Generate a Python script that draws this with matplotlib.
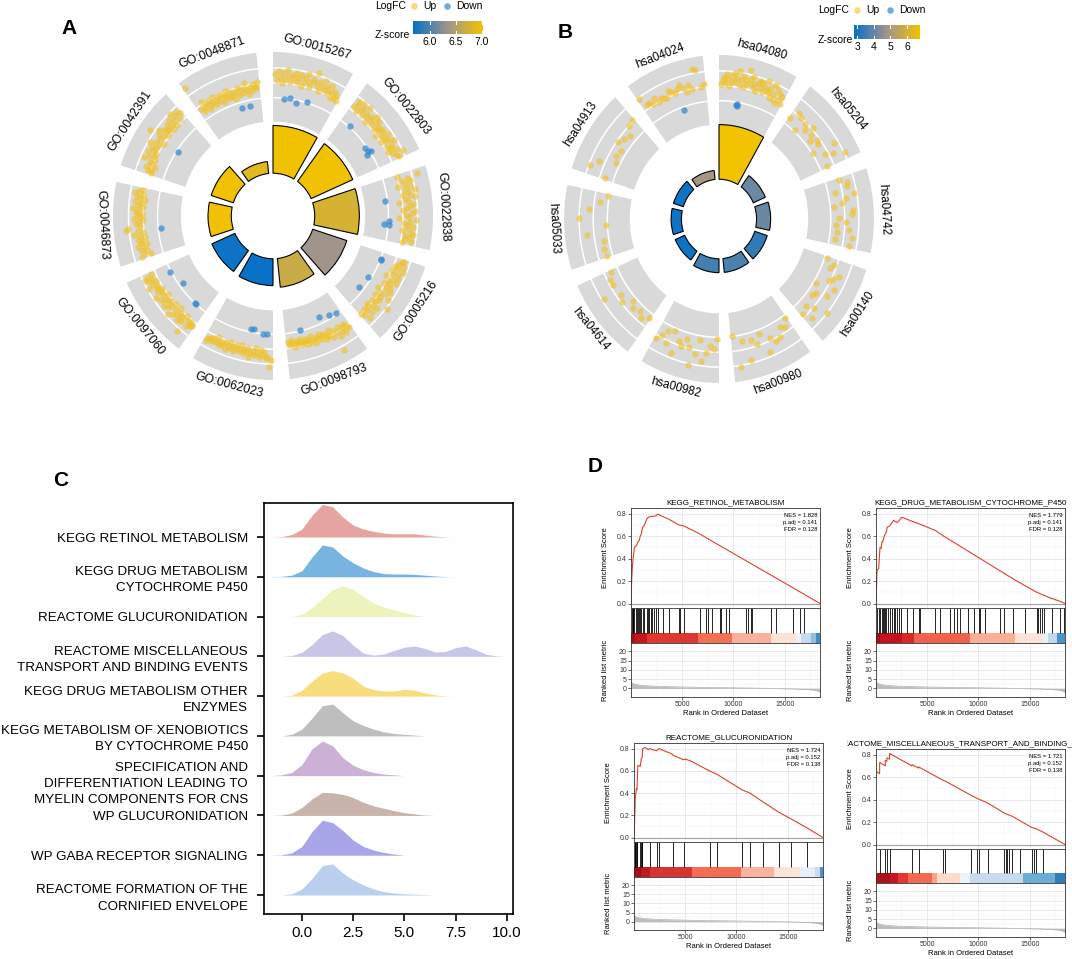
#!/usr/bin/env python3
"""
Four-panel enrichment figure: GO / KEGG circle plots, ridge plot, GSEA plots.
Writes out.png (1072x959).
"""
import numpy as np
import matplotlib
matplotlib.use("Agg")
import matplotlib.pyplot as plt
from matplotlib.colors import LinearSegmentedColormap, Normalize
from matplotlib.cm import ScalarMappable
from matplotlib.transforms import Bbox, TransformedBbox, offset_copy

plt.rcParams['font.family'] = ['Liberation Sans', 'DejaVu Sans']

# ---------------- panel A data (GO circle) ----------------
go_terms = ["GO:0015267", "GO:0022803", "GO:0022838", "GO:0005216", "GO:0098793",
            "GO:0062023", "GO:0097060", "GO:0046873", "GO:0042391", "GO:0048871"]
go_count = [48, 47, 46, 37, 29, 27, 26, 24, 24, 12]
go_zscore = [7.0, 7.0, 6.78, 6.35, 6.68, 5.70, 5.72, 7.0, 7.0, 6.87]
go_zlim = (5.68, 7.02)
go_up = [
    [1.6, 1.2, 1.8, 1.4, 1.0, 1.7, 1.3, 1.9, 1.5, 1.1, 1.6, 1.4, 1.8, 1.2, 1.5, 1.7, 1.0, 1.3, 1.6, 1.9,
     1.4, 1.1, 1.7, 1.5, 2.2, 1.3, 1.6, 1.0, 1.4, 1.8, 1.2, 1.5, 1.1, 1.7, 1.3, 0.9, 1.4, 1.0, 1.2, 0.9],
    [1.3, 1.7, 1.5, 1.1, 1.8, 1.4, 1.6, 1.2, 1.9, 1.5, 1.3, 1.0, 1.6, 1.4, 1.8, 1.2, 1.5, 1.7, 1.1, 1.4,
     1.3, 1.6, 0.9, 1.5, 1.2, 1.7, 1.4, 1.0, 1.3, 1.6, 1.8, 1.2, 1.5, 1.4, 1.1, 1.7, 1.3, 2.0, 1.5, 1.6],
    [1.0, 2.4, 1.6, 1.2, 1.8, 1.4, 0.9, 1.7, 1.3, 2.0, 1.5, 1.1, 1.6, 1.9, 1.2, 1.4, 0.8, 1.7, 1.5, 1.3,
     1.0, 1.8, 1.6, 1.2, 1.4, 0.7, 1.9, 1.5, 1.1, 1.3, 1.7, 1.4, 1.0, 1.6, 1.8, 1.2, 1.5, 1.3, 1.7, 1.1],
    [1.6, 1.5, 1.3, 1.7, 1.1, 1.4, 1.8, 1.0, 1.5, 1.2, 1.6, 0.8, 1.4, 1.7, 1.1, 1.3, 0.9, 1.5, 1.2, 1.6,
     0.7, 1.4, 1.0, 1.8, 1.2, 0.8, 1.3, 2.1, 1.1, 0.9, 1.5, 1.2, 0.8, 1.0, 1.4, 1.1, 0.9, 1.6, 1.2, 1.0],
    [1.2, 1.0, 0.8, 1.3, 0.9, 1.1, 0.7, 1.4, 1.0, 2.3, 0.8, 1.2, 0.6, 1.0, 0.9, 1.1, 0.7, 0.8, 1.0, 0.6,
     0.9, 0.7, 1.1, 0.8, 0.5, 0.9, 0.7, 1.0, 0.6, 0.8, 0.9, 0.5, 0.7, 0.8, 0.6, 1.0, 0.7, 0.5, 0.8, 0.6],
    [1.7, 2.2, 1.5, 1.6, 1.2, 1.4, 1.1, 1.6, 1.3, 1.0, 1.5, 1.2, 1.4, 1.7, 1.1, 1.3, 1.5, 1.2, 1.0, 1.4,
     1.3, 1.1, 1.5, 1.2, 1.4, 1.0, 1.3, 1.6, 1.1, 1.4, 1.2, 1.5, 1.3, 1.0, 1.4, 1.2, 1.5, 1.3, 1.4, 1.6],
    [1.3, 1.4, 1.1, 1.6, 1.2, 2.2, 1.0, 1.5, 1.3, 1.7, 1.1, 1.4, 0.9, 1.6, 1.2, 1.8, 1.0, 1.3, 1.5, 1.1,
     1.7, 1.2, 1.4, 1.6, 1.0, 1.3, 1.8, 1.2, 1.5, 1.1, 1.4, 1.3, 1.9, 1.5, 1.2, 1.6, 1.4, 1.9, 1.7, 1.3],
    [1.5, 0.8, 1.2, 1.0, 1.4, 1.1, 1.6, 0.9, 1.3, 1.2, 1.5, 1.0, 1.3, 1.7, 1.1, 1.4, 2.2, 2.1, 1.2, 1.5,
     1.3, 1.0, 1.6, 1.2, 1.4, 1.1, 1.5, 1.3, 1.7, 1.0, 1.4, 1.2, 1.6, 0.9, 1.3, 1.5, 1.1, 1.7, 1.4, 1.2],
    [0.9, 1.2, 1.0, 1.4, 0.8, 1.1, 1.3, 1.8, 1.0, 1.5, 1.2, 1.7, 1.1, 1.4, 1.6, 1.3, 1.9, 1.2, 1.5, 1.0,
     1.4, 2.3, 1.6, 1.3, 1.8, 1.1, 1.5, 1.4, 1.2, 1.6, 1.0, 1.3, 1.7, 1.1, 1.4, 1.9, 1.6, 1.2, 1.7, 1.5],
    [2.6, 0.8, 0.5, 1.2, 0.7, 0.9, 0.4, 1.0, 0.6, 0.8, 1.1, 0.5, 0.7, 0.9, 0.6, 1.0, 0.4, 0.8, 0.7, 1.1,
     0.5, 0.9, 0.6, 0.8, 0.3, 0.7, 1.0, 0.5, 0.9, 0.6, 0.8, 1.2, 0.7, 0.4, 0.9, 0.6, 1.0, 0.8, 0.7, 1.1],
]
# down-regulated genes: (position within sector, logFC)
go_down = [
    [(0.18, -0.07), (0.28, 0.07), (0.39, -0.2), (0.57, 0.1)],
    [(0.17, 0.1), (0.61, -0.13), (0.68, -0.07), (0.70, 0.07), (0.73, -0.27)],
    [(0.36, -0.17), (0.68, 0.03), (0.73, -0.3), (0.75, 0.07)],
    [(0.11, 0.0), (0.12, 0.05), (0.47, -0.23), (0.70, -0.35)],
    [(0.08, -0.13), (0.20, -0.29), (0.36, -0.45), (0.75, -0.1)],
    [(0.10, -0.03), (0.16, -0.02), (0.32, -0.27), (0.37, -0.2)],
    [(0.20, -0.02), (0.22, -0.05), (0.60, -0.27), (0.87, 0.07)],
    [(0.40, -0.2)],
    [(0.51, -0.1)],
    [(0.66, -0.36), (0.80, -0.4)],
]

# ---------------- panel B data (KEGG circle) ----------------
kegg_terms = ["hsa04080", "hsa05204", "hsa04742", "hsa00140", "hsa00980",
              "hsa00982", "hsa04614", "hsa05033", "hsa04913", "hsa04024"]
kegg_count = [55, 14, 15, 14, 14, 14, 11, 11, 11, 9]
kegg_zscore = [6.76, 4.1, 4.1, 3.4, 3.7, 3.6, 2.9, 2.9, 2.9, 4.9]
kegg_zlim = (2.8, 6.78)
kegg_up = [
    [1.1, 1.4, 1.6, 1.2, 1.8, 1.5, 1.0, 1.7, 1.3, 1.9, 1.4, 1.6, 2.1, 1.2, 1.5, 1.8, 1.1, 1.6, 1.3, 2.3,
     1.7, 1.4, 1.9, 1.2, 1.5, 1.0, 1.6, 1.8, 1.3, 1.7, 1.1, 1.5, 2.0, 1.4, 1.2, 1.6, 0.9, 1.9, 1.3, 1.0,
     1.7, 0.8, 1.5, 1.1, 1.4, 0.9],
    [0.5, 1.2, 1.0, 0.1, 0.9, 0.6, 1.1, 0.7, 0.4, 0.8, 0.7, 0.1, 1.7, 0.8, 1.3, 2.1, 0.5],
    [1.0, 1.5, 1.4, 0.5, 1.8, 1.2, 0.9, 0.3, 1.6, 1.5, 0.6, 1.1, 0.4, 1.3, 0.5, 1.6, 0.4, 1.5],
    [0.2, 0.8, 0.6, 1.4, 1.1, 0.9, 1.5, 0.2, 1.3, 0.6, 0.4, 2.0, 1.1, 0.6, 1.4, 0.8],
    [0.2, 0.7, 0.5, 1.1, 1.2, 0.8, 1.7, 0.3, 0.9, 0.5, 1.8, 0.4, 2.1, 0.0],
    [0.1, 0.8, 0.6, 1.1, 1.7, 0.3, 1.3, 2.1, 0.9, 0.4, 1.0, 0.7, 1.7, 0.2, 1.2, 0.4, 0.8, 1.2],
    [0.4, 0.7, 0.4, 0.6, 0.3, 0.9, 0.7, 1.8, 0.8, 0.8, 0.5],
    [0.4, 0.5, 0.35, 1.5, 0.1, 2.0, 1.3, 0.6, 0.1],
    [0.6, 1.9, 1.4, 0.3, 0.5, 0.4, 0.9, 0.7, 0.5, 1.0, 1.1],
    [1.9, 1.3, 1.3, 1.1, 1.4, 1.0, 1.2, 1.1, 1.0, 1.4, 1.2, 1.1, 1.3, 1.5, 1.2, 0.9, 1.3, 1.0, 2.3, 2.2,
     1.0, 1.2],
]
kegg_down = [[(0.30, -0.2), (0.32, -0.25), (0.31, -0.15)], [], [], [], [], [], [], [], [],
             [(0.58, -0.24)]]

# ---------------- panel C data (ridges) ----------------
ridge_labels = [
    "KEGG RETINOL METABOLISM",
    "KEGG DRUG METABOLISM\nCYTOCHROME P450",
    "REACTOME GLUCURONIDATION",
    "REACTOME MISCELLANEOUS\nTRANSPORT AND BINDING EVENTS",
    "KEGG DRUG METABOLISM OTHER\nENZYMES",
    "KEGG METABOLISM OF XENOBIOTICS\nBY CYTOCHROME P450",
    "SPECIFICATION AND\nDIFFERENTIATION LEADING TO\nMYELIN COMPONENTS FOR CNS",
    "WP GLUCURONIDATION",
    "WP GABA RECEPTOR SIGNALING",
    "REACTOME FORMATION OF THE\nCORNIFIED ENVELOPE",
]
ridge_colors = ["#E6A4A0", "#78B4E0", "#EEF2BC", "#C8C6E6", "#F7DD7C",
                "#BEBEBE", "#CDB0D6", "#C9B4AC", "#A8A6E8", "#B8D0EE"]
ridge_x = [-1.5, -1.0, -0.5, 0.0, 0.5, 1.0, 1.5, 2.0, 2.5, 3.0, 3.5, 4.0,
           4.5, 5.0, 5.5, 6.0, 6.5, 7.0, 7.5, 8.0, 8.5, 9.0, 9.5, 10.0]
ridge_density = [
    [0, 0.01, 0.06, 0.2, 0.55, 0.82, 0.76, 0.5, 0.3, 0.2, 0.14, 0.1, 0.08, 0.08, 0.08, 0.05, 0.02, 0.005, 0, 0, 0, 0, 0, 0],
    [0, 0.01, 0.04, 0.15, 0.5, 0.8, 0.75, 0.52, 0.35, 0.22, 0.13, 0.08, 0.07, 0.07, 0.06, 0.04, 0.02, 0.005, 0, 0, 0, 0, 0, 0],
    [0, 0, 0, 0.06, 0.22, 0.45, 0.68, 0.77, 0.68, 0.5, 0.34, 0.24, 0.17, 0.1, 0.04, 0, 0, 0, 0, 0, 0, 0, 0, 0],
    [0, 0, 0.02, 0.1, 0.3, 0.55, 0.64, 0.52, 0.28, 0.08, 0.03, 0.06, 0.15, 0.23, 0.26, 0.2, 0.11, 0.12, 0.22, 0.26, 0.16, 0.05, 0.01, 0],
    [0, 0, 0.02, 0.15, 0.38, 0.58, 0.64, 0.58, 0.45, 0.25, 0.16, 0.13, 0.13, 0.17, 0.15, 0.08, 0.03, 0.005, 0, 0, 0, 0, 0, 0],
    [0, 0, 0.04, 0.17, 0.45, 0.76, 0.8, 0.58, 0.38, 0.26, 0.17, 0.1, 0.06, 0.04, 0.02, 0, 0, 0, 0, 0, 0, 0, 0, 0],
    [0, 0.02, 0.08, 0.28, 0.68, 0.87, 0.75, 0.45, 0.26, 0.15, 0.08, 0.04, 0.02, 0, 0, 0, 0, 0, 0, 0, 0, 0, 0, 0],
    [0, 0.01, 0.06, 0.2, 0.42, 0.58, 0.57, 0.53, 0.45, 0.33, 0.24, 0.18, 0.12, 0.07, 0.04, 0.01, 0, 0, 0, 0, 0, 0, 0, 0],
    [0, 0.01, 0.06, 0.22, 0.6, 0.88, 0.82, 0.62, 0.38, 0.22, 0.13, 0.07, 0.03, 0, 0, 0, 0, 0, 0, 0, 0, 0, 0, 0],
    [0, 0, 0.03, 0.15, 0.42, 0.74, 0.78, 0.55, 0.38, 0.25, 0.15, 0.08, 0.05, 0.03, 0.02, 0.01, 0, 0, 0, 0, 0, 0, 0, 0],
]
ridge_ticks = [0.0, 2.5, 5.0, 7.5, 10.0]

# ---------------- panel D data (GSEA) ----------------
gsea_titles = ["KEGG_RETINOL_METABOLISM", "KEGG_DRUG_METABOLISM_CYTOCHROME_P450",
               "REACTOME_GLUCURONIDATION", "REACTOME_MISCELLANEOUS_TRANSPORT_AND_BINDING_EVENTS"]
gsea_nes = ["1.828", "1.779", "1.724", "1.721"]
gsea_padj = ["0.141", "0.141", "0.152", "0.152"]
gsea_fdr = ["0.128", "0.128", "0.138", "0.138"]
n_genes = 18450

es1_rank = [0, 60, 150, 230, 330, 450, 550, 680, 800, 900, 1010, 1140, 1270, 1530, 1660, 1790, 1920,
            2080, 2440, 2600, 3100, 3700, 4650, 5150, 6700, 8000, 10000, 12000, 14000, 16000, 17500, 18450]
es1_score = [0, 0.2, 0.35, 0.42, 0.5, 0.51, 0.52, 0.55, 0.56, 0.6, 0.62, 0.68, 0.69, 0.75, 0.765, 0.77,
             0.775, 0.775, 0.78, 0.795, 0.775, 0.75, 0.70, 0.69, 0.62, 0.55, 0.445, 0.34, 0.235, 0.13, 0.05, 0.0]
es2_rank = [0, 100, 260, 390, 500, 585, 650, 810, 1010, 1100, 1330, 1560, 1720, 1885, 2050, 2275, 2470,
            2600, 3020, 3575, 4160, 4325, 5000, 5790, 6600, 8390, 10170, 11950, 13740, 15700, 17000, 17950, 18450]
es2_score = [0, 0.3, 0.31, 0.5, 0.49, 0.55, 0.55, 0.6, 0.64, 0.68, 0.69, 0.72, 0.74, 0.73, 0.72, 0.74, 0.765,
             0.765, 0.75, 0.73, 0.71, 0.705, 0.68, 0.65, 0.6, 0.5, 0.4, 0.3, 0.2, 0.1, 0.05, 0.02, 0.0]
es3_rank = [0, 60, 120, 230, 290, 380, 610, 710, 800, 850, 1100, 1400, 1520, 1800, 2240, 2300, 2430, 2700,
            3730, 3800, 4830, 5000, 5500, 7350, 8070, 10530, 11310, 12600, 14090, 15290, 16820, 18450]
es3_score = [0, 0.15, 0.35, 0.44, 0.43, 0.65, 0.64, 0.71, 0.72, 0.8, 0.81, 0.79, 0.80, 0.79, 0.78, 0.79, 0.8,
             0.79, 0.75, 0.74, 0.7, 0.705, 0.69, 0.6, 0.57, 0.43, 0.4, 0.32, 0.23, 0.17, 0.09, 0.0]
es4_rank = [0, 350, 360, 900, 910, 1060, 1070, 1320, 1330, 3500, 3520, 4150, 4170, 6580, 6750, 9235, 9880,
            10890, 12510, 13320, 14090, 15230, 15650, 16300, 18450]
es4_score = [0.65, 0.63, 0.73, 0.70, 0.75, 0.74, 0.77, 0.76, 0.81, 0.70, 0.71, 0.68, 0.69, 0.57, 0.565, 0.44,
             0.41, 0.37, 0.28, 0.25, 0.21, 0.15, 0.14, 0.11, 0.0]

hits1 = [60, 150, 230, 330, 450, 550, 680, 800, 900, 1010, 1140, 1270, 1530, 1660, 1790, 1920, 2080, 2275,
         2440, 2600, 3100, 3700, 4650, 4800, 5150, 6700, 7350, 7500, 7950, 8650, 8800, 9250, 9600, 11250,
         11400, 11700, 11850, 13650, 14200, 15800, 16450, 16900]
hits2 = [100, 260, 420, 585, 680, 810, 910, 1010, 1140, 1330, 1560, 1720, 1885, 2050, 2275, 2470, 3020,
         3575, 4160, 4325, 5790, 6275, 7180, 7640, 7900, 8220, 8970, 9520, 10010, 10170, 10660, 12120,
         12450, 13360, 14500, 15700, 15860, 16020, 16190, 16445, 17160, 17970, 18360]
hits3 = [65, 120, 180, 260, 330, 610, 680, 750, 810, 1570, 2260, 2480, 3780, 4870, 7380, 8110, 10560,
         11310, 12600, 14130, 15330, 16860]
hits4 = [356, 907, 1070, 1330, 3500, 4150, 6580, 6740, 9235, 9880, 10040, 10890, 12510, 12670, 12800,
         12960, 13320, 14090, 15230, 15390, 15650, 16300]

strip1_edges = [0, 390, 1530, 6565, 9815, 13715, 16090, 16640, 17615, 18100, 18450]
strip1_cols = ['#A50F15', '#C5161C', '#DC3A2E', '#F5704F', '#FBB29A', '#FDE2D6', '#EDF0F8', '#C6DBEF',
               '#8FC0E0', '#3F8CC6']
strip2_edges = [0, 420, 2535, 3670, 9200, 13585, 16185, 16835, 17650, 18450]
strip2_cols = ['#A50F15', '#C0151B', '#D42A25', '#F0624A', '#FBAF94', '#FDE3D8', '#EAEFF8', '#BFD8EE',
               '#4A94CC']
strip3_edges = [0, 650, 1560, 5620, 10400, 13650, 16185, 17650, 18135, 18450]
strip3_cols = ['#A50F15', '#BE1A1F', '#D93530', '#F46D52', '#FBB49C', '#FDE4DA', '#E8EEF8', '#C6DBEF',
               '#4A92C8']
strip4_edges = [0, 1365, 2180, 3150, 5430, 5915, 8190, 9165, 14365, 17450, 18450]
strip4_cols = ['#A8141A', '#C4161C', '#E0382F', '#F26A50', '#FBA585', '#FDDCCB', '#EEF2FA', '#C6DBEF',
               '#6AAED6', '#2F7EBC']

metric_rank = [0, 100, 300, 600, 1000, 2000, 3000, 5000, 7500, 10000, 12500, 14000, 16000, 17000,
               17800, 18200, 18450]
metric_value = [3.6, 3.0, 2.4, 2.0, 1.7, 1.3, 1.1, 0.8, 0.55, 0.35, 0.15, 0.0, -0.25, -0.45, -0.8,
                -1.3, -2.0]

# ---------------- drawing ----------------
W, H = 1072, 959
fig = plt.figure(figsize=(W / 100, H / 100), dpi=100)

ZCMAP = LinearSegmentedColormap.from_list('zscore', ['#0571C9', '#A0948C', '#F2C300'])
UP_COL = '#F2C01E'
DOWN_COL = '#2F86D0'


def px_axes(x0, y0, x1, y1, **kw):
    # axes from pixel box (origin top-left)
    return fig.add_axes([x0 / W, 1 - y1 / H, (x1 - x0) / W, (y1 - y0) / H], **kw)


def circle_panel(cx, cy, sx, sy, terms, counts, zscores, zlim, up_vals, down_pts, inner, fsize):
    R = 185
    w, h = 2 * R * sx, 2 * R * sy
    ax = px_axes(cx - w / 2, cy - h / 2, cx + w / 2, cy + h / 2, projection='polar')
    ax.set_theta_zero_location('N')
    ax.set_theta_direction(-1)
    ax.set_ylim(0, R)
    ax.set_aspect('auto')
    ax.axis('off')
    norm = Normalize(*zlim)
    span = np.deg2rad(30)
    for i, term in enumerate(terms):
        start = np.deg2rad(36 * i)
        mid = start + span / 2
        # outer grey ring with white guide lines
        ax.bar(mid, 70, width=span, bottom=95, color='#D9D9D9', lw=0)
        arc = np.linspace(start, start + span, 60)
        for r in (119, 134, 149):
            ax.plot(arc, np.full(arc.size, r), color='white', lw=1.1)
        # inner bar
        ax.bar(mid, counts[i], width=span, bottom=inner, color=ZCMAP(norm(zscores[i])),
               edgecolor='black', lw=0.8)
        # gene points
        vals = np.array(up_vals[i])
        frac = np.linspace(0.03, 0.97, len(vals))
        ax.scatter(start + frac * span, 119 + 15 * vals, s=21, color=UP_COL, alpha=0.6, lw=0, zorder=3)
        if down_pts[i]:
            d = np.array(down_pts[i])
            ax.scatter(start + d[:, 0] * span, 119 + 15 * d[:, 1], s=21, color=DOWN_COL, alpha=0.7,
                       lw=0, zorder=3)
        deg = 36 * i + 15
        rot = -deg if (deg <= 90 or deg >= 270) else 180 - deg
        ax.text(mid, 176, term, rotation=rot, rotation_mode='anchor', ha='center', va='center',
                fontsize=fsize)
    return norm


def circle_legend(ov, x0, y0, cb_box, ticks, norm):
    ov.text(x0, y0, "LogFC", fontsize=7.5, ha='left', va='center')
    ov.scatter([x0 + 39], [y0], s=22, color=UP_COL, alpha=0.6, lw=0)
    ov.text(x0 + 48, y0, "Up", fontsize=7.5, ha='left', va='center')
    ov.scatter([x0 + 72], [y0], s=22, color=DOWN_COL, alpha=0.7, lw=0)
    ov.text(x0 + 81, y0, "Down", fontsize=7.5, ha='left', va='center')
    ov.text(x0, cb_box[3] + 1, "Z-score", fontsize=7.5, ha='left', va='center')
    cax = px_axes(*cb_box)
    cb = fig.colorbar(ScalarMappable(norm=norm, cmap=ZCMAP), cax=cax, orientation='horizontal')
    cb.outline.set_visible(False)
    cax.set_xticks(ticks)
    cax.set_xticklabels(ticks if isinstance(ticks[0], int) else ["%.1f" % t for t in ticks])
    cax.tick_params(length=0, labelsize=7.5, pad=2.5)
    for t in ticks:
        cax.axvline(t, 0, 0.2, color='white', lw=0.8)
        cax.axvline(t, 0.8, 1, color='white', lw=0.8)


def gsea_panel(box, title, stats, es_rank, es_score, hits, strip_edges, strip_cols, clip_left=None):
    left, right, es_top, es_bot, hit_bot, rank_bot = box
    ax1 = px_axes(left, es_top, right, es_bot)
    ax2 = px_axes(left, es_bot, right, hit_bot)
    ax3 = px_axes(left, hit_bot, right, rank_bot)
    for ax in (ax1, ax2, ax3):
        ax.set_xlim(0, n_genes)
        for s in ax.spines.values():
            s.set_color('#333333')
            s.set_linewidth(0.6)
    for ax in (ax1, ax3):
        ax.set_xticks([5000, 10000, 15000])
        ax.set_xticks([2500, 7500, 12500, 17500], minor=True)
        ax.grid(which='major', color='#E2E2E2', lw=0.5)
        ax.grid(which='minor', color='#F0F0F0', lw=0.35)
        ax.set_axisbelow(True)
        ax.tick_params(which='minor', length=0)
        ax.tick_params(which='major', labelsize=5, length=2, width=0.5, colors='#333333',
                       labelcolor='#333333', pad=1)
    # running enrichment score
    ax1.set_ylim(-0.04, 0.85)
    ax1.set_yticks([0, 0.2, 0.4, 0.6, 0.8])
    ax1.set_yticks([0.1, 0.3, 0.5, 0.7], minor=True)
    ax1.set_yticklabels(['0.0', '0.2', '0.4', '0.6', '0.8'])
    ax1.tick_params(axis='x', which='both', length=0, labelbottom=False)
    ax1.axhline(0, color='#A0A0A0', lw=0.8)
    ax1.plot(es_rank, es_score, color='#E3402B', lw=0.8)
    ax1.set_ylabel('Enrichment Score', fontsize=5.5)
    ax1.yaxis.set_label_coords(-0.115, 0.5)
    ax1.text(0.985, 0.95, stats, transform=ax1.transAxes, ha='right', va='top', fontsize=4.2,
             linespacing=1.45)
    t = ax1.text(0.5, 1.02, title, transform=ax1.transAxes, ha='center', va='bottom', fontsize=5.8)
    if clip_left is not None:
        # the reference shows this long title cropped at the sub-figure edges
        t.set_clip_box(TransformedBbox(Bbox.from_extents(clip_left / W, 0, 1, 1), fig.transFigure))
        t.set_clip_on(True)
    # gene hits and rank colour strip
    ax2.set_ylim(0, 1)
    ax2.vlines(hits, 0.29, 1, color='black', lw=0.6)
    ax2.broken_barh(list(zip(strip_edges[:-1], np.diff(strip_edges))), (0, 0.29),
                    facecolors=strip_cols)
    ax2.set_xticks([])
    ax2.set_yticks([])
    # ranked list metric
    ax3.set_ylim(-4.6, 24.5)
    ax3.set_yticks([0, 5, 10, 15, 20])
    ax3.set_yticks([2.5, 7.5, 12.5, 17.5, 22.5], minor=True)
    ax3.fill_between(metric_rank, 0, metric_value, color='#BDBDBD', lw=0)
    ax3.plot(metric_rank, metric_value, color='#B0B0B0', lw=0.5)
    ax3.set_ylabel('Ranked list metric', fontsize=5.5)
    ax3.yaxis.set_label_coords(-0.115, 0.5)
    ax3.set_xlabel('Rank in Ordered Dataset', fontsize=5.5, labelpad=1.5)


# panel A and B circles
normA = circle_panel(273, 216, 0.97, 0.994, go_terms, go_count, go_zscore, go_zlim,
                     go_up, go_down, 43, 8.8)
normB = circle_panel(719, 219, 0.939, 0.994, kegg_terms, kegg_count, kegg_zscore, kegg_zlim,
                     kegg_up, kegg_down, 40, 8.4)

# panel C ridges
axc = px_axes(264, 503, 513, 914)
for i in range(len(ridge_labels)):
    base = len(ridge_labels) - 1 - i
    axc.fill_between(ridge_x, base, base + np.array(ridge_density[i]), color=ridge_colors[i],
                     lw=0, zorder=2 + i)
axc.set_xlim(-1.85, 10.3)
axc.set_ylim(-0.478, 9.855)
axc.set_yticks(range(len(ridge_labels)))
# the three-line label sits half a line below its tick in the reference: drawn separately
shifted = 6
tick_text = [("" if i == shifted else lab) for i, lab in enumerate(ridge_labels)]
axc.set_yticklabels(tick_text[::-1], fontsize=9.6, linespacing=1.45)
axc.text(0, len(ridge_labels) - 1 - shifted, ridge_labels[shifted], fontsize=9.6, linespacing=1.45,
         ha='right', va='center', multialignment='right',
         transform=offset_copy(axc.get_yaxis_transform(), fig, x=-11.6, y=-6.2, units='points'))
axc.set_xticks(ridge_ticks)
axc.set_xticklabels(["%.1f" % v for v in ridge_ticks], fontsize=11)
axc.tick_params(axis='y', length=4.8, width=1.2, pad=6.8)
axc.tick_params(axis='x', length=4.8, width=1.2, pad=4)
for s in axc.spines.values():
    s.set_linewidth(1.2)

# panel D GSEA plots
boxes = [(631, 820, 508, 608, 643, 697),
         (876, 1065, 508, 608, 643, 697),
         (634, 823, 743, 842, 877, 930),
         (876, 1065, 749, 849, 883, 937)]
es_ranks = [es1_rank, es2_rank, es3_rank, es4_rank]
es_scores = [es1_score, es2_score, es3_score, es4_score]
hit_sets = [hits1, hits2, hits3, hits4]
strip_edge_sets = [strip1_edges, strip2_edges, strip3_edges, strip4_edges]
strip_col_sets = [strip1_cols, strip2_cols, strip3_cols, strip4_cols]
for k in range(4):
    stats = "NES = %s\np.adj = %s\nFDR = %s" % (gsea_nes[k], gsea_padj[k], gsea_fdr[k])
    gsea_panel(boxes[k], gsea_titles[k], stats, es_ranks[k], es_scores[k], hit_sets[k],
               strip_edge_sets[k], strip_col_sets[k], clip_left=847 if k == 3 else None)

# overlay in pixel coordinates: panel letters and circle legends
ov = fig.add_axes([0, 0, 1, 1])
ov.set_xlim(0, W)
ov.set_ylim(H, 0)
ov.axis('off')
for letter, x, y in [("A", 69, 28), ("B", 565, 33), ("C", 61, 480), ("D", 595, 466)]:
    ov.text(x, y, letter, fontsize=15, fontweight='bold', ha='center', va='center')
circle_legend(ov, 375, 6, (413, 21, 483, 34), [6.0, 6.5, 7.0], normA)
circle_legend(ov, 818, 10, (854, 25, 920, 39), [3, 4, 5, 6], normB)

fig.savefig("out.png", dpi=100)
